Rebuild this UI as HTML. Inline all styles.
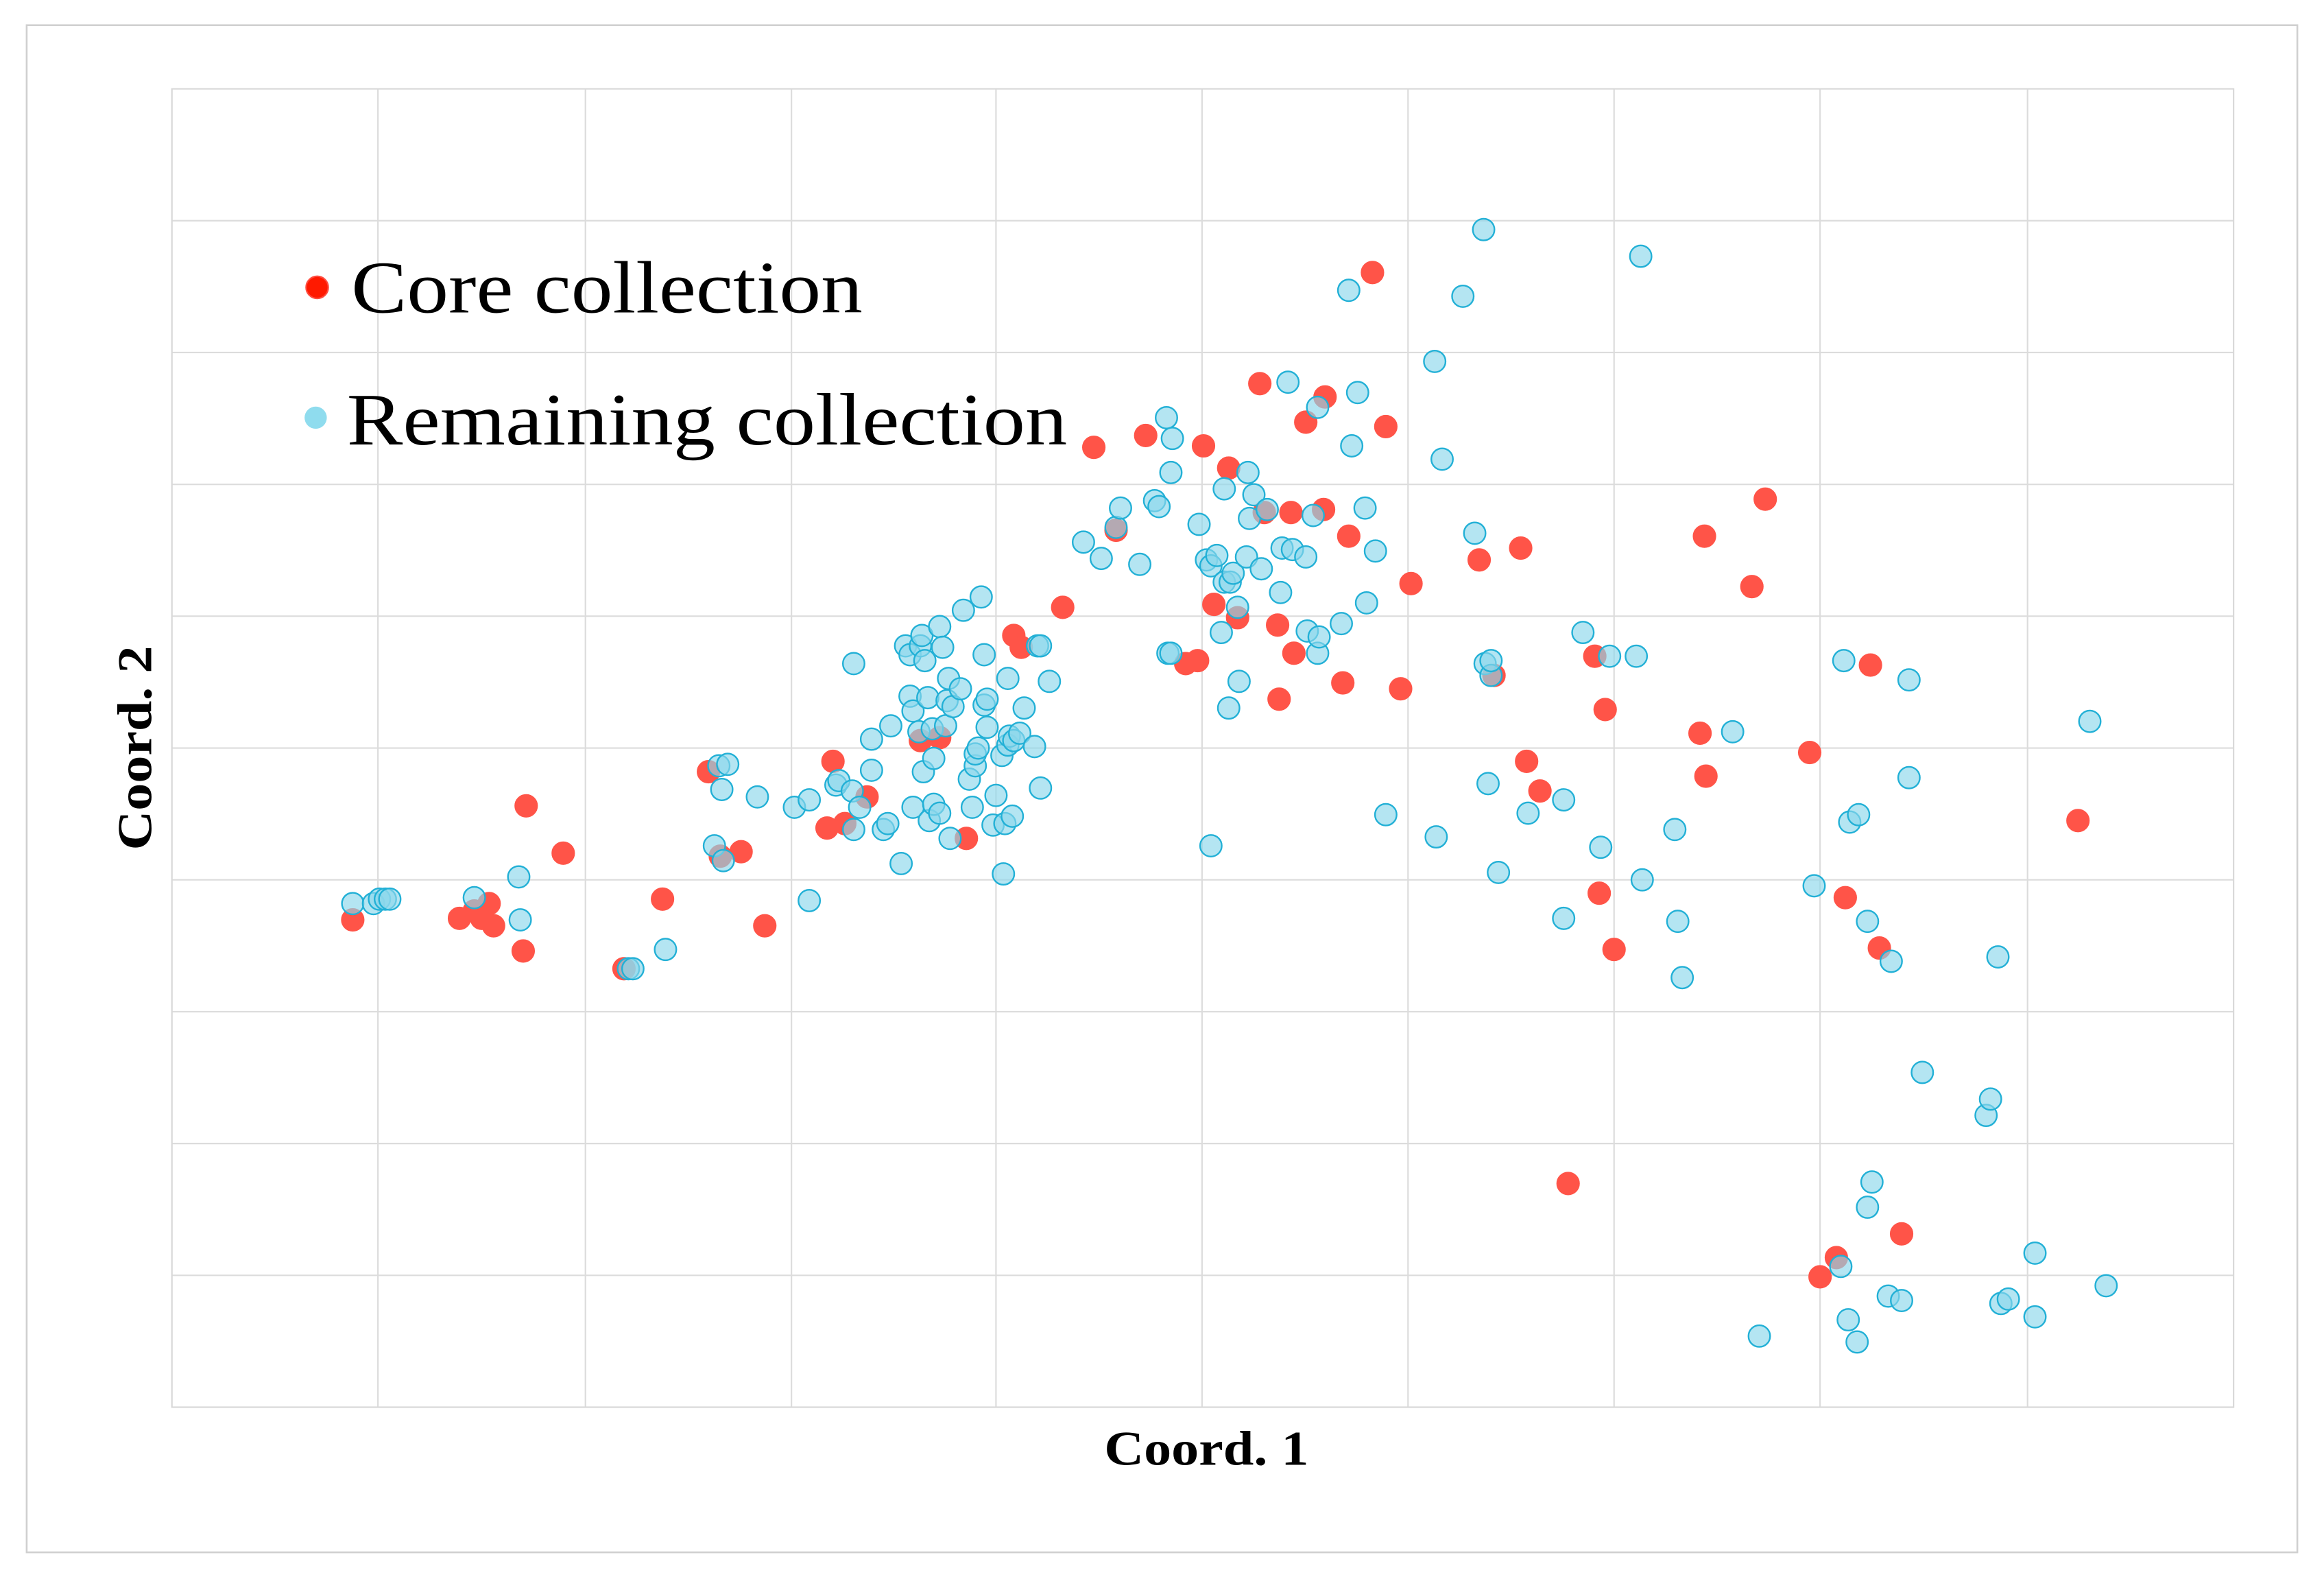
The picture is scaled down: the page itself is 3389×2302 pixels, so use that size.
<!DOCTYPE html>
<html>
<head>
<meta charset="utf-8">
<style>
html,body{margin:0;padding:0;background:#fff;}
svg{display:block;}
</style>
</head>
<body>
<svg id="chart" width="3389" height="2302" viewBox="0 0 1568 1066" preserveAspectRatio="none" xmlns="http://www.w3.org/2000/svg">
  <rect x="18" y="17" width="1532" height="1031" fill="#fff" stroke="#d0d0d0" stroke-width="1.2"/>
  <g id="grid"></g>
  <rect x="116" y="60" width="1391" height="890" fill="none" stroke="#d8d8d8" stroke-width="1"/>
  <g id="core-series"></g>
  <g id="remaining-series"></g>
  <g>
    <g>
      <circle cx="214" cy="194" r="7.5" fill="#ff1a00" stroke="#ff4d40" stroke-width="1"/>
      <text x="237" y="211" textLength="345" lengthAdjust="spacingAndGlyphs" font-family="'Liberation Serif', serif" font-size="50" fill="#000">Core collection</text>
    </g>
    <g>
      <circle cx="213" cy="282" r="7.5" fill="#8fdcee"/>
      <text x="234" y="300" textLength="486" lengthAdjust="spacingAndGlyphs" font-family="'Liberation Serif', serif" font-size="50" fill="#000">Remaining collection</text>
    </g>
  </g>
  <text x="745" y="989" textLength="138" lengthAdjust="spacingAndGlyphs" font-family="'Liberation Serif', serif" font-weight="bold" font-size="33" fill="#000">Coord. 1</text>
  <text x="-69" y="0" transform="translate(102,505) rotate(-90)" textLength="138" lengthAdjust="spacingAndGlyphs" font-family="'Liberation Serif', serif" font-weight="bold" font-size="33" fill="#000">Coord. 2</text>
</svg>
<script>
// Data in arbitrary ordination units
const xDomain = [0, 1391];
const yDomain = [0, 890];
const xGridTicks = [139, 279, 418, 556, 695, 834, 973, 1112, 1252];
const yGridTicks = [89, 178, 267, 356, 445, 534, 623, 712, 801];

const coreX = [122,194,204,214,217,209,239,237,264,305,331,362,370,384,400,442,446,454,469,505,518,536,568,573,601,622,637,657,696,713,684,692,703,719,734,737,755,746,757,747,765,778,777,794,790,810,819,829,836,882,892,910,914,923,960,967,963,973,942,1031,1034,1035,1066,1075,1105,1129,1146,1152,1167,1123,1112,1286];
const coreY = [329,330,335,340,325,330,406,308,374,296,343,429,372,375,325,391,436,394,412,450,452,384,521,513,540,648,592,656,649,634,502,504,542,533,691,604,604,528,509,478,665,682,606,588,489,766,662,485,556,572,494,580,436,416,507,471,347,309,151,455,588,426,554,613,442,344,501,310,117,101,88,396];

const remX = [122,136,140,144,147,204,234,235,308,311,333,366,372,369,375,371,395,420,430,430,448,450,459,460,460,464,472,472,480,483,485,492,498,495,498,500,500,505,506,504,507,508,510,511,513,514,514,518,518,520,522,523,524,525,527,532,534,538,540,542,542,544,546,548,548,550,550,554,556,560,561,562,564,564,565,567,568,572,575,582,584,586,586,592,615,627,637,640,653,663,666,671,672,674,674,675,693,698,701,701,705,708,710,710,714,713,716,719,720,725,726,727,730,735,739,748,749,753,756,765,766,770,773,773,774,789,794,796,800,805,806,812,819,852,853,857,871,879,885,886,888,890,890,895,915,939,939,952,964,970,988,992,991,1014,1016,1019,1053,1071,1108,1128,1132,1138,1144,1131,1137,1126,1144,1147,1158,1160,1167,1172,1172,1181,1224,1227,1232,1234,1239,1257,1257,1294,1305];
const remY = [340,340,343,343,343,344,358,329,296,296,309,379,369,433,434,417,412,405,410,342,420,423,416,502,390,405,430,451,390,394,460,367,480,514,508,470,405,514,521,456,429,504,479,396,458,407,438,527,401,513,460,477,492,384,473,485,538,424,405,433,441,445,547,474,508,478,459,393,413,440,360,394,447,492,453,399,450,455,472,446,514,418,514,490,584,573,594,607,569,612,608,668,509,509,631,654,596,572,379,568,575,523,620,557,557,472,563,540,490,574,631,600,616,566,606,550,580,692,579,574,524,602,675,509,520,529,754,649,685,607,543,578,400,706,385,640,750,590,795,502,421,494,504,361,401,410,330,523,378,507,507,356,777,390,328,290,456,48,352,504,395,400,328,59,44,95,135,152,75,301,72,491,425,226,197,208,304,70,73,104,61,463,82];

const plot = {x0:116, x1:1507, y0:950, y1:60};
function xScale(v){ return plot.x0 + (v - xDomain[0]) / (xDomain[1] - xDomain[0]) * (plot.x1 - plot.x0); }
function yScale(v){ return plot.y0 - (v - yDomain[0]) / (yDomain[1] - yDomain[0]) * (plot.y0 - plot.y1); }

const NS = "http://www.w3.org/2000/svg";
const grid = document.getElementById('grid');
xGridTicks.forEach(function(t){
  const l = document.createElementNS(NS, 'line');
  
  
  l.setAttribute('x1', xScale(t)); l.setAttribute('x2', xScale(t));
  l.setAttribute('y1', plot.y1); l.setAttribute('y2', plot.y0);
  l.setAttribute('stroke', '#dcdcdc'); l.setAttribute('stroke-width', '1');
  grid.appendChild(l);
});
yGridTicks.forEach(function(t){
  const l = document.createElementNS(NS, 'line');
  
  
  l.setAttribute('y1', yScale(t)); l.setAttribute('y2', yScale(t));
  l.setAttribute('x1', plot.x0); l.setAttribute('x2', plot.x1);
  l.setAttribute('stroke', '#dcdcdc'); l.setAttribute('stroke-width', '1');
  grid.appendChild(l);
});

const coreG = document.getElementById('core-series');
coreX.forEach(function(x, i){
  const c = document.createElementNS(NS, 'circle');
  
  
  c.setAttribute('cx', xScale(x)); c.setAttribute('cy', yScale(coreY[i]));
  c.setAttribute('r', '7.5');
  c.setAttribute('fill', '#ff5448');
  c.setAttribute('stroke', '#ff5448');
  c.setAttribute('stroke-width', '0.8');
  coreG.appendChild(c);
});

const remG = document.getElementById('remaining-series');
remX.forEach(function(x, i){
  const c = document.createElementNS(NS, 'circle');
  
  
  c.setAttribute('cx', xScale(x)); c.setAttribute('cy', yScale(remY[i]));
  c.setAttribute('r', '7.3');
  c.setAttribute('fill', 'rgba(140,215,235,0.65)');
  c.setAttribute('stroke', '#22b0d6');
  c.setAttribute('stroke-width', '1.1');
  remG.appendChild(c);
});
</script>
</body>
</html>
